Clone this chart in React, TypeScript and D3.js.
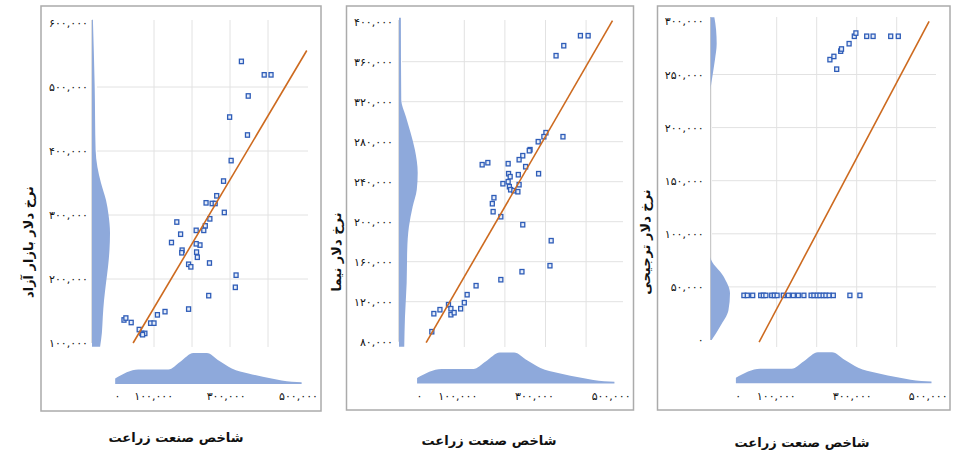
import React, { useEffect, useRef } from 'react';
import * as d3 from 'd3';

type Pt = [number, number];

// shared x variable (agriculture index)
const xTitle = 'شاخص صنعت زراعت';
const xTickValues = [0, 100000, 300000, 500000];
const xGridValues = [100000, 200000, 300000, 400000];
// marginal density of the x variable, [value, relative density]
const agriDensity: Pt[] = [
  [-5000, 0.18], [59000, 0.47], [142000, 0.47], [174000, 0.71], [211000, 1.0],
  [248000, 1.0], [282000, 0.75], [317000, 0.5], [363000, 0.34], [427000, 0.18],
  [483000, 0.075], [510000, 0.06],
];

// panel 1: free market dollar
const freeTitle = 'نرخ دلار بازار آزاد';
const freeTicks = [100000, 200000, 300000, 400000, 500000, 600000];
const freeGrid = [200000, 300000, 400000, 500000];
const freePoints: Pt[] = [
  [330000, 540000], [390000, 519000], [408000, 519000], [348000, 486000], [299000, 453000],
  [346000, 425000], [303000, 385000], [283000, 353000], [265000, 330000], [253000, 318000],
  [237000, 319000], [261000, 318000], [285000, 304000], [247000, 294000], [160000, 289000],
  [235000, 283000], [170000, 270000], [211000, 276000], [231000, 276000], [146000, 257000],
  [221000, 253000], [211000, 255000], [174000, 245000], [173000, 241000], [212000, 242000],
  [214000, 234000], [191000, 223000], [197000, 219000], [246000, 225000], [316000, 206000],
  [314000, 187000], [244000, 174000], [191000, 153000], [129000, 149000], [109000, 144000],
  [91000, 131000], [100000, 131000], [21000, 136000], [26000, 139000], [40000, 132000],
  [61000, 121000], [68000, 115000], [76000, 115000], [70000, 113000],
];
const freeTrend: Pt[] = [[45000, 100000], [502000, 557000]];
const freeDensity: Pt[] = [
  [94000, 0.45], [116000, 0.55], [141000, 0.6], [167000, 0.67], [194000, 0.78],
  [219000, 0.89], [245000, 0.97], [272000, 1.0], [300000, 0.92], [323000, 0.78],
  [350000, 0.5], [375000, 0.3], [402000, 0.2], [500000, 0.15], [605000, 0.05],
];

// panel 2: NIMA dollar
const nimaTitle = 'نرخ دلار نیما';
const nimaTicks = [80000, 120000, 160000, 200000, 240000, 280000, 320000, 360000, 400000];
const nimaGrid = [120000, 160000, 200000, 240000, 280000, 320000, 360000];
const nimaPoints: Pt[] = [
  [386000, 386000], [405000, 386000], [345000, 376000], [326000, 366000], [301000, 289000],
  [296000, 285000], [343000, 285000], [282000, 280000], [262000, 272000], [260000, 271000],
  [244000, 266000], [235000, 262000], [251000, 255000], [208000, 258000], [144000, 257000],
  [158000, 259000], [209000, 248000], [213000, 245000], [233000, 247000], [283000, 248000],
  [195000, 238000], [208000, 240000], [211000, 235000], [214000, 232000], [222000, 231000],
  [232000, 230000], [235000, 237000], [173000, 224000], [169000, 218000], [171000, 210000],
  [190000, 205000], [244000, 197000], [314000, 181000], [311000, 156000], [242000, 150000],
  [190000, 142000], [129000, 136000], [107000, 127000], [100000, 119000], [91000, 113000],
  [61000, 117000], [67000, 113000], [67000, 107000], [75000, 109000], [40000, 112000],
  [25000, 108000], [20000, 90000],
];
const nimaTrend: Pt[] = [[6000, 79000], [465000, 401000]];
const nimaDensity: Pt[] = [
  [75000, 0.28], [105000, 0.32], [139000, 0.41], [172000, 0.44], [195000, 0.53],
  [215000, 0.73], [232000, 0.95], [249000, 1.0], [272000, 0.85], [289000, 0.62],
  [305000, 0.37], [322000, 0.12], [404000, 0.1],
];

// panel 3: preferential dollar
const prefTitle = 'نرخ دلار ترجیحی';
const prefTicks = [0, 50000, 100000, 150000, 200000, 250000, 300000];
const prefGrid = [50000, 100000, 150000, 200000, 250000];
const prefPoints: Pt[] = [
  [18000, 42000], [26500, 42000], [40000, 42000], [60000, 42000], [66500, 42000],
  [73000, 42000], [87500, 42000], [94000, 42000], [101000, 42000], [116500, 42000],
  [129000, 42000], [141500, 42000], [154000, 42000], [168000, 42000], [186000, 42000],
  [193000, 42000], [201000, 42000], [208000, 42000], [216000, 42000], [223000, 42000],
  [231000, 42000], [241500, 42000], [283000, 42000], [308000, 42000],
  [233000, 264000], [243000, 267000], [250000, 255000], [260000, 272000], [262000, 274000],
  [281000, 279000], [294000, 286000], [298000, 289000], [325000, 286000], [341000, 286000],
  [385000, 286000], [404000, 286000],
];
const prefTrend: Pt[] = [[56000, -2000], [481000, 300000]];
const prefDensity: Pt[] = [
  [0, 0.05], [12500, 0.48], [28000, 0.92], [44000, 1.0], [60000, 0.66], [78000, 0],
  [235000, 0], [249500, 0.1], [264000, 0.22], [279000, 0.31], [292000, 0.28], [304000, 0.19],
];

const panels = [
  {
    title: freeTitle, ticks: freeTicks, grid: freeGrid, points: freePoints, trend: freeTrend,
    density: freeDensity, yDomain: [100000, 600000],
    layout: {
      box: [41, 6, 321, 411], sx: [116, 306], sy: [343, 23], mx: [117, 298],
      gx: [97, 308], gy: [20, 347], yBase: 92, yMax: 18, xBase: 384, xMax: 31,
      pad: 4, yt: [28, 242], xt: [176, 437],
    },
  },
  {
    title: nimaTitle, ticks: nimaTicks, grid: nimaGrid, points: nimaPoints, trend: nimaTrend,
    density: nimaDensity, yDomain: [80000, 400000],
    layout: {
      box: [346.5, 6, 633.5, 410], sx: [423.7, 626.7], sy: [341.7, 21.7], mx: [419, 610.6],
      gx: [402, 623], gy: [20, 347], yBase: 399, yMax: 18.7, xBase: 383.5, xMax: 31,
      pad: 6, yt: [336, 252], xt: [489, 440],
    },
  },
  {
    title: prefTitle, ticks: prefTicks, grid: prefGrid, points: prefPoints, trend: prefTrend,
    density: prefDensity, yDomain: [0, 300000],
    layout: {
      box: [657.5, 6, 950, 410], sx: [736.7, 936.7], sy: [340, 21.4], mx: [737.8, 927.7],
      gx: [712, 936], gy: [17, 347], yBase: 710.7, yMax: 19.3, xBase: 383.3, xMax: 31,
      pad: 7, yt: [645, 242], xt: [802, 442],
    },
  },
];

const faDigits = '۰۱۲۳۴۵۶۷۸۹';
const fmt = (v: number) => d3.format(',')(v).replace(/[0-9]/g, c => faDigits[+c]);
const font = '"DejaVu Sans", sans-serif';

const App = () => {
  const svgRef = useRef<SVGSVGElement>(null);

  useEffect(() => {
    const svg = d3.select(svgRef.current);
    svg.selectAll('*').remove();

    panels.forEach(p => {
      const L = p.layout;
      const g = svg.append('g');

      const x = d3.scaleLinear().domain([0, 500000]).range(L.sx);
      const y = d3.scaleLinear().domain(p.yDomain).range(L.sy);
      const xm = d3.scaleLinear().domain([0, 500000]).range(L.mx);

      // frame
      g.append('rect')
        .attr('x', L.box[0]).attr('y', L.box[1])
        .attr('width', L.box[2] - L.box[0]).attr('height', L.box[3] - L.box[1])
        .attr('fill', '#fff').attr('stroke', '#ABABAB').attr('stroke-width', 1.5);

      // gridlines
      g.selectAll('.hgrid').data(p.grid).join('line')
        .attr('x1', L.gx[0]).attr('x2', L.gx[1])
        .attr('y1', d => y(d)).attr('y2', d => y(d))
        .attr('stroke', '#E2E2E2').attr('stroke-width', 1);
      g.selectAll('.vgrid').data(xGridValues).join('line')
        .attr('x1', d => x(d)).attr('x2', d => x(d))
        .attr('y1', L.gy[0]).attr('y2', L.gy[1])
        .attr('stroke', '#E2E2E2').attr('stroke-width', 1);

      // vertical axis line behind the density
      g.append('line')
        .attr('x1', L.yBase).attr('x2', L.yBase)
        .attr('y1', L.gy[0]).attr('y2', y(p.yDomain[0]))
        .attr('stroke', '#BDBDBD').attr('stroke-width', 1);

      // y marginal density
      const w = d3.scaleLinear().domain([0, 1]).range([0, L.yMax]);
      const yArea = d3.area<Pt>()
        .y(d => y(d[0]))
        .x0(L.yBase)
        .x1(d => L.yBase + w(d[1]))
        .curve(d3.curveMonotoneY);
      g.append('path').datum(p.density).attr('d', yArea).attr('fill', '#8EA9DB');

      // x marginal density
      const h = d3.scaleLinear().domain([0, 1]).range([0, L.xMax]);
      const xArea = d3.area<Pt>()
        .x(d => xm(d[0]))
        .y0(L.xBase)
        .y1(d => L.xBase - h(d[1]))
        .curve(d3.curveMonotoneX);
      g.append('path').datum(agriDensity).attr('d', xArea).attr('fill', '#8EA9DB');

      // points
      g.selectAll('.pt').data(p.points).join('rect')
        .attr('x', d => x(d[0]) - 2).attr('y', d => y(d[1]) - 2.2)
        .attr('width', 4).attr('height', 4.4)
        .attr('fill', '#E6EDF9').attr('stroke', '#2F5DB8').attr('stroke-width', 1.3);

      // trend line
      const line = d3.line<Pt>().x(d => x(d[0])).y(d => y(d[1]));
      g.append('path').datum(p.trend).attr('d', line)
        .attr('fill', 'none').attr('stroke', '#CD6A1F').attr('stroke-width', 1.6);

      // y axis labels
      const yAxis = g.append('g')
        .attr('transform', `translate(${L.yBase},0)`)
        .call(d3.axisLeft(y).tickValues(p.ticks).tickFormat(d => fmt(+d)).tickSize(0).tickPadding(L.pad));
      yAxis.select('.domain').remove();
      yAxis.selectAll('text').attr('font-family', font).attr('font-size', 11).attr('fill', '#111');

      // x axis labels
      const xAxis = g.append('g')
        .attr('transform', `translate(0,392)`)
        .call(d3.axisBottom(xm).tickValues(xTickValues).tickFormat(d => fmt(+d)).tickSize(0).tickPadding(0));
      xAxis.select('.domain').remove();
      xAxis.selectAll('text').attr('font-family', font).attr('font-size', 11).attr('fill', '#111');

      // titles
      g.append('text')
        .attr('transform', `translate(${L.yt[0]},${L.yt[1]}) rotate(-90)`)
        .attr('text-anchor', 'middle').attr('dy', '0.35em')
        .attr('font-family', font).attr('font-size', 13).attr('font-weight', 'bold').attr('fill', '#111')
        .text(p.title);
      svg.append('text')
        .attr('x', L.xt[0]).attr('y', L.xt[1])
        .attr('text-anchor', 'middle').attr('dy', '0.35em')
        .attr('font-family', font).attr('font-size', 13).attr('font-weight', 'bold').attr('fill', '#111')
        .text(xTitle);
    });
  }, []);

  return (
    <svg ref={svgRef} width={958} height={462}
      style={{ position: 'absolute', left: 0, top: 0, background: '#fff' }} />
  );
};

export default App;
